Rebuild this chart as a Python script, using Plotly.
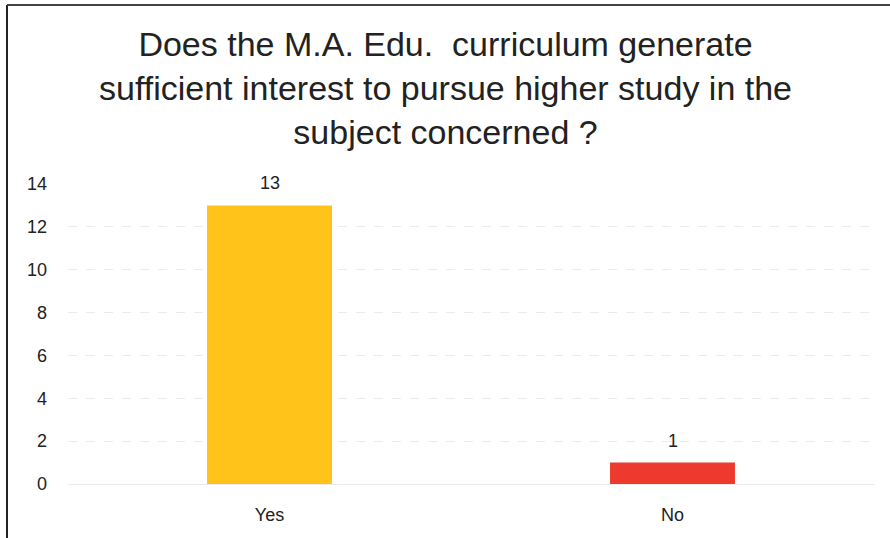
import plotly.graph_objects as go

# Survey responses
categories = ["Yes", "No"]
counts = [13, 1]
bar_colors = ["#FFC31A", "#EE3A2E"]
y_ticks = [0, 2, 4, 6, 8, 10, 12, 14]

title_text = ("Does the M.A. Edu.  curriculum generate<br>"
              "sufficient interest to pursue higher study in the<br>"
              "subject concerned ?")

W, H = 890, 538
L, R, T, B = 68, 16, 184, 54
label_font = dict(family="Liberation Sans, Arial, sans-serif", size=18, color="#222")

fig = go.Figure()
fig.add_trace(go.Bar(
    x=categories, y=counts,
    marker=dict(color=bar_colors, line=dict(width=0)),
    cliponaxis=False,
))

# value labels above each bar
for cat, val in zip(categories, counts):
    fig.add_annotation(x=cat, y=val, text=str(val), showarrow=False,
                       yanchor="middle", yshift=22, font=label_font)

# frame around the chart (left and top edges visible)
pw, ph = W - L - R, H - T - B
def px_x(p):
    return (p - L) / pw
def px_y(p):
    return (H - B - p) / ph

fig.add_shape(type="line", xref="paper", yref="paper",
              x0=px_x(7), x1=px_x(7), y0=px_y(5), y1=px_y(540),
              line=dict(color="#222", width=2))
fig.add_shape(type="line", xref="paper", yref="paper",
              x0=px_x(7), x1=px_x(892), y0=px_y(5), y1=px_y(5),
              line=dict(color="#444", width=2))

# chart title
fig.add_annotation(text=title_text, xref="paper", yref="paper",
                   x=px_x(445), y=px_y(23), xanchor="center", yanchor="top",
                   showarrow=False, align="center",
                   font=dict(family="Liberation Sans Narrow, Arial Narrow, sans-serif",
                             size=34, color="#222"))

fig.update_layout(
    width=W, height=H,
    margin=dict(l=L, r=R, t=T, b=B),
    paper_bgcolor="white", plot_bgcolor="white",
    bargap=0.69,
    showlegend=False,
    xaxis=dict(showgrid=False, showline=False, ticks="", ticklabelstandoff=18,
               tickfont=label_font),
    yaxis=dict(range=[0, 14], tickvals=y_ticks, showline=False, ticks="",
               showgrid=True, gridcolor="#ebebeb", griddash="dash", gridwidth=1,
               zeroline=True, zerolinecolor="#ebebeb", zerolinewidth=1,
               ticklabelstandoff=20, tickfont=label_font),
)

fig.write_html("out.html")
